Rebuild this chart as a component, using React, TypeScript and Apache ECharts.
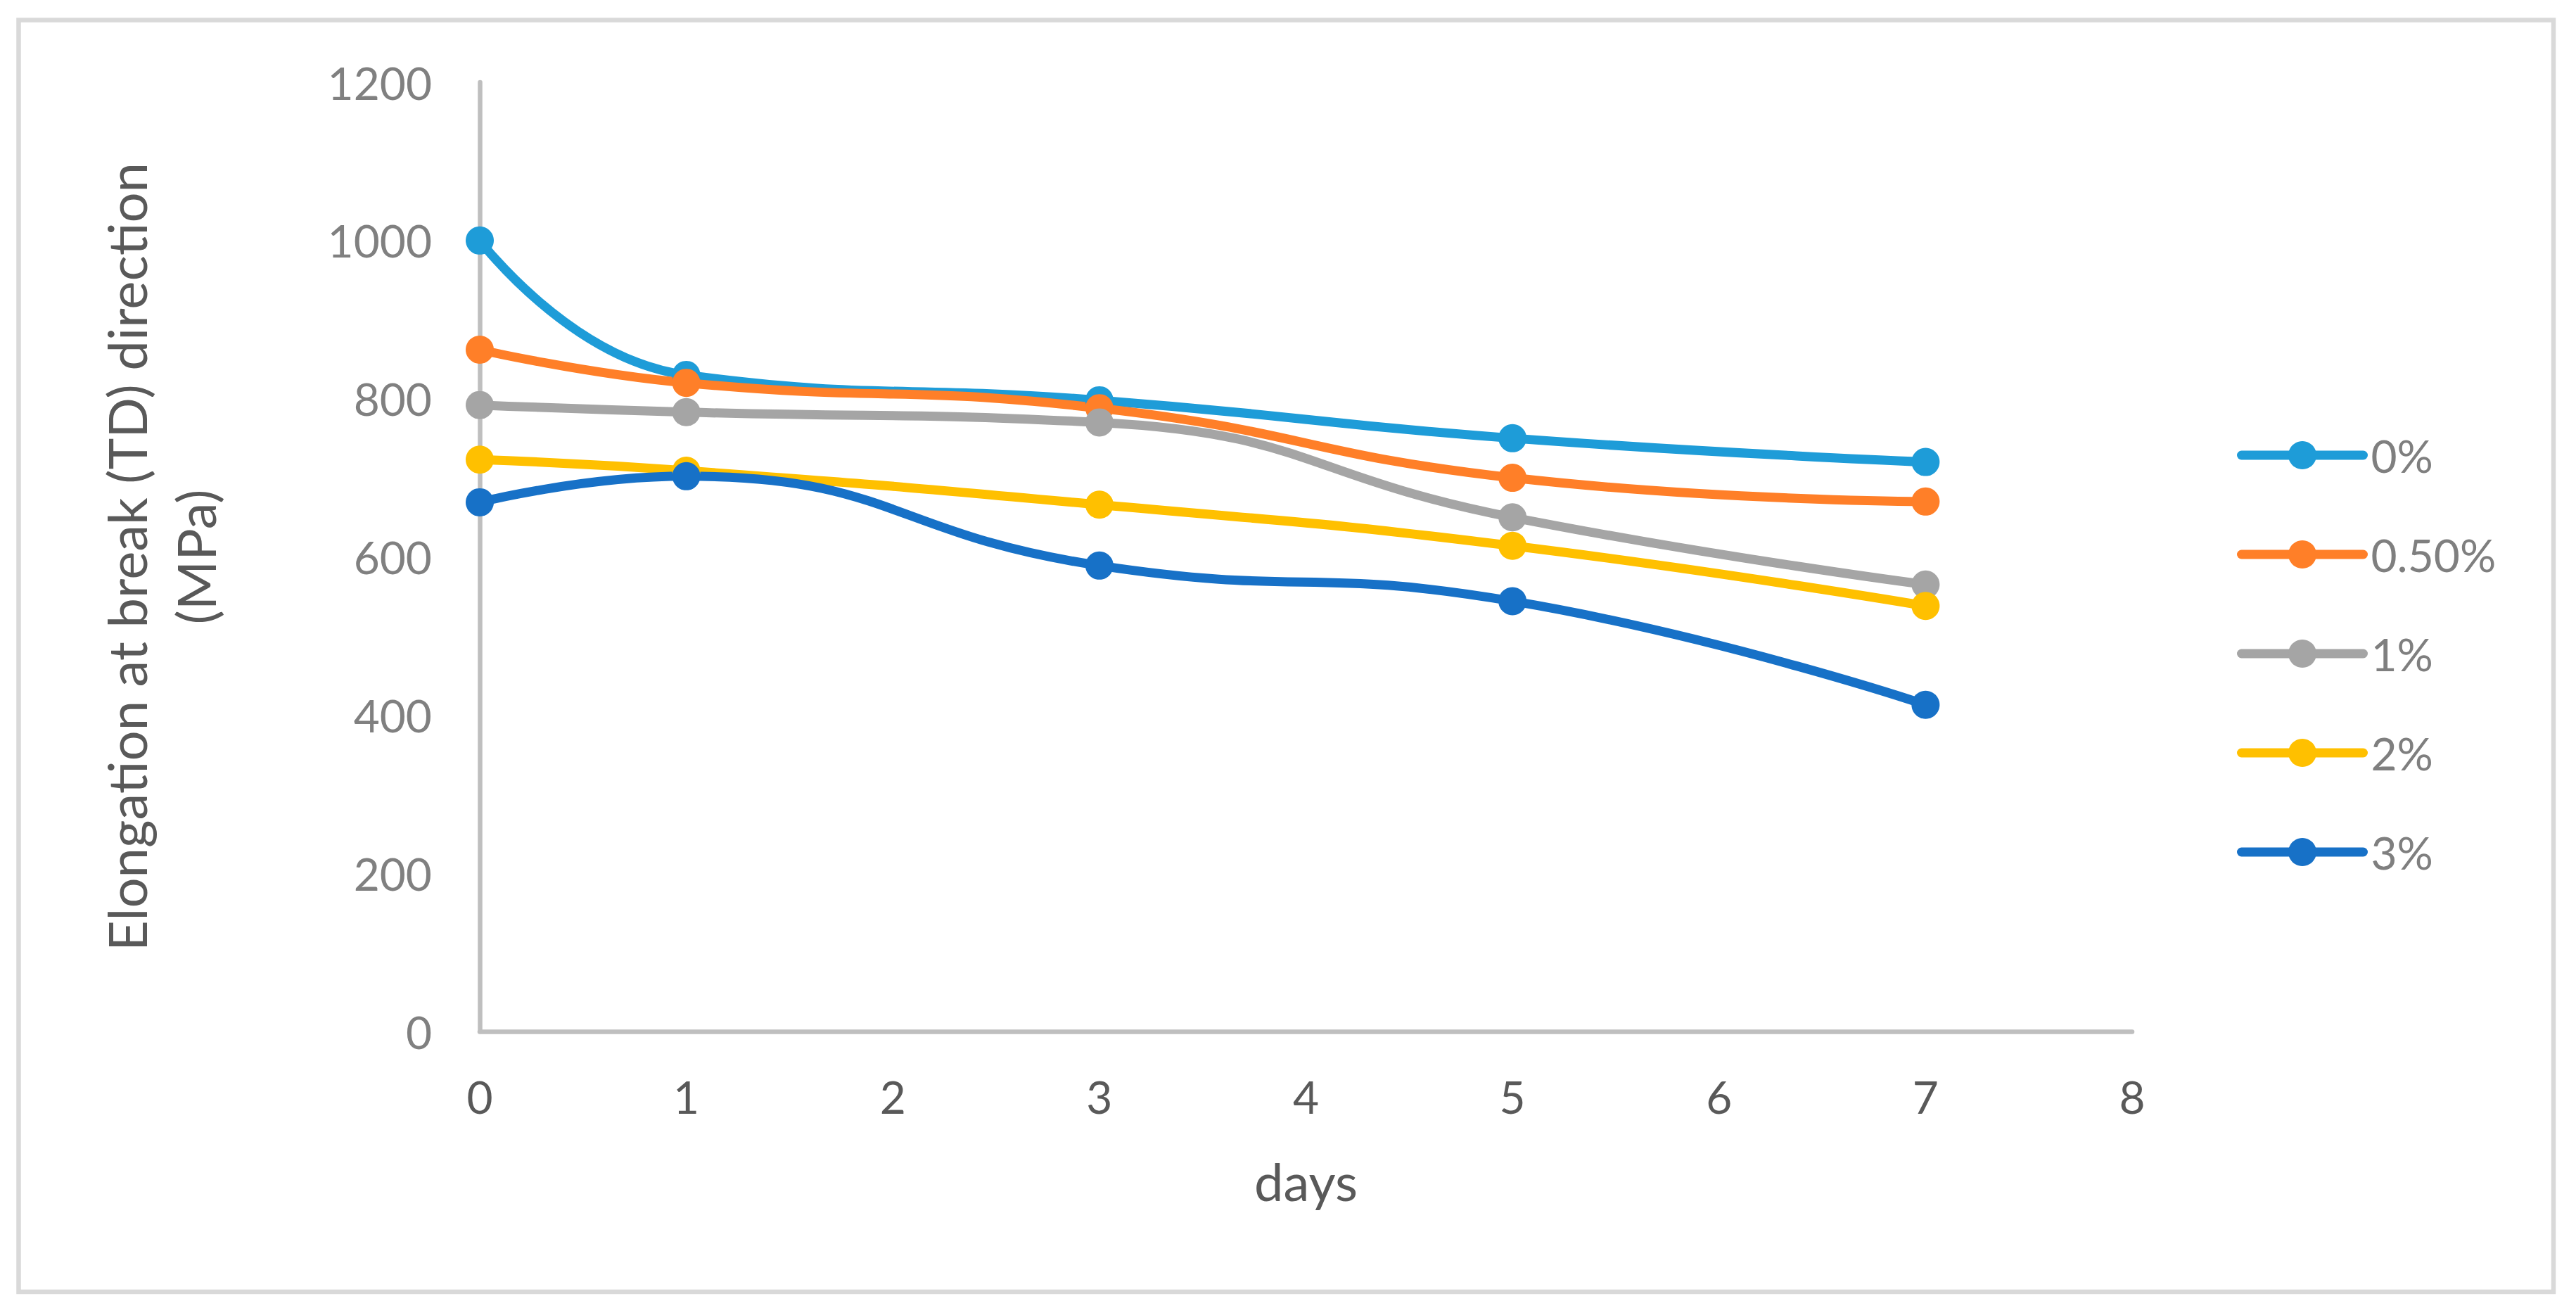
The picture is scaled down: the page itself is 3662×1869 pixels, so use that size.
import React, { useEffect, useRef } from "react";
import * as echarts from "echarts";

const days = [0, 1, 3, 5, 7];
const seriesNames = ["0%", "0.50%", "1%", "2%", "3%"];
const s0 = [1000, 830, 798, 750, 720];
const s05 = [862, 820, 788, 700, 670];
const s1 = [792, 783, 770, 650, 565];
const s2 = [723, 709, 666, 614, 538];
const s3 = [669, 702, 589, 544, 413];
const seriesValues = [s0, s05, s1, s2, s3];
const colors = ["#1E9CD8", "#FF7F28", "#A5A5A5", "#FFC000", "#1771C7"];
const yTitle = "Elongation at break (TD) direction\n(MPa)";
const xTitle = "days";

const W = 3662;
const H = 1869;
const FONT = "Lato";

export default function App() {
  const ref = useRef<HTMLDivElement>(null);
  useEffect(() => {
    if (!ref.current) return;
    const chart = echarts.init(ref.current, undefined, { renderer: "svg", width: W, height: H });
    const series = seriesNames.map((name, i) => ({
      name,
      type: "line",
      data: days.map((d, j) => [d, seriesValues[i][j]]),
      smooth: 0.5,
      symbol: "circle",
      symbolSize: 40,
      clip: false,
      lineStyle: { width: 13, color: colors[i], cap: "round", join: "round" },
      itemStyle: { color: colors[i] },
      emphasis: { disabled: true },
    }));
    chart.setOption({
      animation: false,
      backgroundColor: "#ffffff",
      textStyle: { fontFamily: FONT },
      grid: { left: 682, right: W - 3031, top: 117, bottom: H - 1466, containLabel: false },
      xAxis: {
        type: "value",
        min: 0,
        max: 8,
        interval: 1,
        name: xTitle,
        nameLocation: "middle",
        nameGap: 175,
        nameTextStyle: { fontSize: 74, color: "#595959", fontFamily: FONT },
        axisLine: { show: true, onZero: false, lineStyle: { color: "#BFBFBF", width: 6.5 } },
        axisTick: { show: false },
        splitLine: { show: false },
        axisLabel: { fontSize: 64, color: "#595959", margin: 60, fontFamily: FONT },
      },
      yAxis: {
        type: "value",
        min: 0,
        max: 1200,
        interval: 200,
        name: yTitle,
        nameLocation: "middle",
        nameRotate: 90,
        nameGap: 356,
        nameTextStyle: { fontSize: 76, color: "#595959", lineHeight: 98, fontFamily: FONT },
        axisLine: { show: true, lineStyle: { color: "#BFBFBF", width: 6.5 } },
        axisTick: { show: false },
        splitLine: { show: false },
        axisLabel: {
          fontSize: 64,
          color: "#808080",
          margin: 68,
          fontFamily: FONT,
          formatter: (v: number) => String(v),
        },
      },
      legend: {
        orient: "vertical",
        left: 3175,
        top: 610,
        itemWidth: 173,
        itemHeight: 50,
        itemGap: 77,
        selectedMode: false,
        lineStyle: { width: 13, cap: "round" },
        textStyle: { fontSize: 64, color: "#7F7F7F", fontFamily: FONT, padding: [0, 0, 0, 6] },
        data: seriesNames,
      },
      graphic: [
        {
          type: "rect",
          shape: { x: 26.5, y: 28.5, width: 3603.5, height: 1807.5 },
          style: { fill: "none", stroke: "#D9D9D9", lineWidth: 6.5 },
          silent: true,
          z: -10,
        },
      ],
      series,
    });
    return () => chart.dispose();
  }, []);
  return (
    <div
      ref={ref}
      style={{ position: "fixed", left: 0, top: 0, width: W, height: H, background: "#fff" }}
    />
  );
}
